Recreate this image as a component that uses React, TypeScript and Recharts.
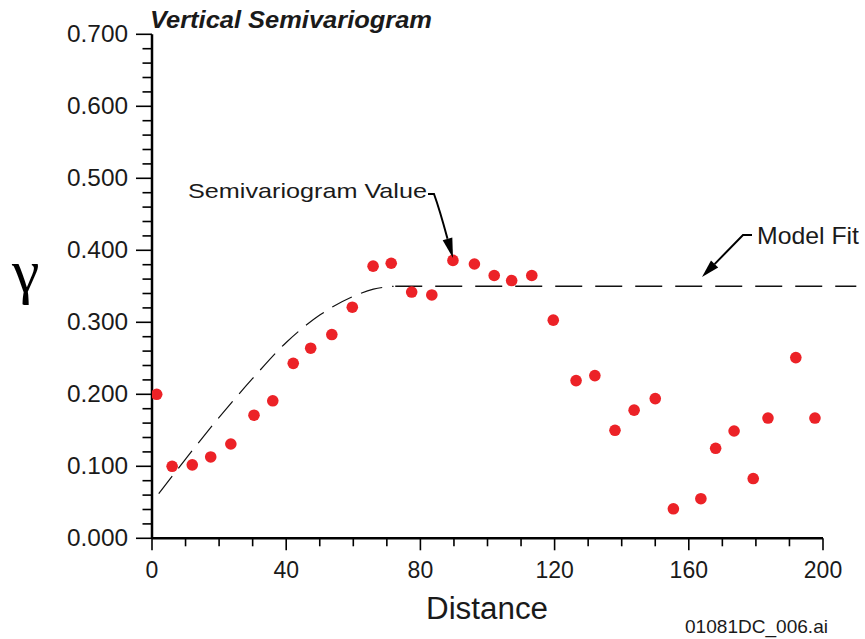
import React from 'react';
import { ComposedChart, Scatter, Line, XAxis, YAxis, ReferenceLine } from 'recharts';

const distance = [1.4, 6, 12, 17.5, 23.5, 30.4, 36, 42.1, 47.3, 53.6, 59.7, 65.9, 71.3, 77.4, 83.4, 89.7, 96.1, 102, 107.2, 113.2, 119.6, 126.4, 132, 138, 143.7, 150, 155.4, 163.6, 168, 173.5, 179.2, 183.6, 191.9, 197.6];
const gamma = [0.2, 0.1, 0.102, 0.113, 0.131, 0.171, 0.191, 0.243, 0.264, 0.283, 0.321, 0.378, 0.382, 0.342, 0.338, 0.386, 0.381, 0.365, 0.358, 0.365, 0.303, 0.219, 0.226, 0.15, 0.178, 0.194, 0.041, 0.055, 0.125, 0.149, 0.083, 0.167, 0.251, 0.167];

// model fit (rising part and sill)
const fitDistance = [2, 10, 20, 30, 40, 50, 60, 66, 72];
const fitGamma = [0.062, 0.11, 0.168, 0.222, 0.272, 0.31, 0.336, 0.346, 0.35];
const sillDistance = [72.5, 210];
const sillGamma = [0.35, 0.35];

const xTicks = [0, 10, 20, 30, 40, 50, 60, 70, 80, 90, 100, 110, 120, 130, 140, 150, 160, 170, 180, 190, 200];
const yTicks = [0, 0.02, 0.04, 0.06, 0.08, 0.1, 0.12, 0.14, 0.16, 0.18, 0.2, 0.22, 0.24, 0.26, 0.28, 0.3, 0.32, 0.34, 0.36, 0.38, 0.4, 0.42, 0.44, 0.46, 0.48, 0.5, 0.52, 0.54, 0.56, 0.58, 0.6, 0.62, 0.64, 0.66, 0.68, 0.7];

const points = distance.map((x, i) => ({ x, y: gamma[i] }));
const fit = fitDistance.map((x, i) => ({ x, y: fitGamma[i] }));
const sill = sillDistance.map((x, i) => ({ x, y: sillGamma[i] }));

const FONT = '"Liberation Sans", Arial, Helvetica, sans-serif';
const INK = '#1a1a1a';

const XTick = (props: any) => {
  const { x, y, payload } = props;
  const major = payload.value % 40 === 0;
  return (
    <g>
      <line x1={x} y1={y} x2={x} y2={y + (major ? 12 : 8)} stroke="#000" strokeWidth={1.6} />
      {major && (
        <text x={x} y={y + 40} textAnchor="middle" fontSize={23} fontFamily={FONT} fill={INK}>
          {payload.value}
        </text>
      )}
    </g>
  );
};

const YTick = (props: any) => {
  const { x, y, payload } = props;
  const v = payload.value;
  const major = Math.abs(v * 10 - Math.round(v * 10)) < 1e-6;
  return (
    <g>
      <line x1={x - (major ? 16 : 9.5)} y1={y} x2={x} y2={y} stroke="#000" strokeWidth={1.6} />
      {major && (
        <text x={x - 24} y={y + 8} textAnchor="end" fontSize={23} fontFamily={FONT} fill={INK}
          textLength={61} lengthAdjust="spacingAndGlyphs">
          {v.toFixed(3)}
        </text>
      )}
    </g>
  );
};

const Dot = (props: any) => <circle cx={props.cx} cy={props.cy} r={5.8} fill="#ec2227" />;

export default function App() {
  return (
    <div style={{ position: 'absolute', left: 0, top: 0, width: 865, height: 639, background: '#fff' }}>
      <ComposedChart width={865} height={639} margin={{ top: 34.3, right: 8.45, bottom: 40.7, left: 52 }}>
        <XAxis
          type="number"
          dataKey="x"
          domain={[0, 210]}
          ticks={xTicks}
          interval={0}
          allowDataOverflow
          axisLine={false}
          tickLine={false}
          tickSize={0}
          tickMargin={0}
          height={60}
          tick={<XTick />}
        />
        <YAxis
          type="number"
          dataKey="y"
          domain={[0, 0.7]}
          ticks={yTicks}
          interval={0}
          allowDataOverflow
          axisLine={{ stroke: '#000', strokeWidth: 2.5 }}
          tickLine={false}
          tickSize={0}
          tickMargin={0}
          width={100}
          tick={<YTick />}
        />
        <ReferenceLine segment={[{ x: 0, y: 0 }, { x: 200, y: 0 }]} stroke="#000" strokeWidth={2.5} />
        <Line data={fit} dataKey="y" type="monotone" stroke="#111" strokeWidth={1.2}
          strokeDasharray="22 10" dot={false} isAnimationActive={false} />
        <Line data={sill} dataKey="y" type="linear" stroke="#111" strokeWidth={1.5}
          strokeDasharray="27 13" dot={false} isAnimationActive={false} />
        <Scatter data={points} shape={<Dot />} isAnimationActive={false} />
      </ComposedChart>
      <svg width={865} height={639} style={{ position: 'absolute', left: 0, top: 0, pointerEvents: 'none' }}>
        <text x={150} y={28.3} fontSize={23} fontWeight="bold" fontStyle="italic" fontFamily={FONT} fill={INK}
          textLength={282} lengthAdjust="spacingAndGlyphs">Vertical Semivariogram</text>
        <text x={12} y={292} fontSize={62} fontFamily='"Liberation Serif", "Times New Roman", serif' fill="#000">γ</text>
        <text x={426} y={619.3} fontSize={31} fontFamily={FONT} fill={INK}
          textLength={122} lengthAdjust="spacingAndGlyphs">Distance</text>
        <text x={685} y={633} fontSize={19} fontFamily={FONT} fill={INK}
          textLength={143} lengthAdjust="spacingAndGlyphs">01081DC_006.ai</text>

        <text x={188} y={198} fontSize={21} fontFamily={FONT} fill={INK}
          textLength={239} lengthAdjust="spacingAndGlyphs">Semivariogram Value</text>
        <path d="M428 194 L434 194 C438 205 443 222 447.5 238.8" fill="none" stroke="#000" strokeWidth={2} />
        <polygon points="453,258 442.7,240.2 452.3,237.4" fill="#000" />

        <text x={757} y={244} fontSize={24} fontFamily={FONT} fill={INK}
          textLength={102} lengthAdjust="spacingAndGlyphs">Model Fit</text>
        <path d="M752 235 L743 235 L714.6 264.1" fill="none" stroke="#000" strokeWidth={2} />
        <polygon points="702,277 718.2,267.6 711,260.6" fill="#000" />
      </svg>
    </div>
  );
}
